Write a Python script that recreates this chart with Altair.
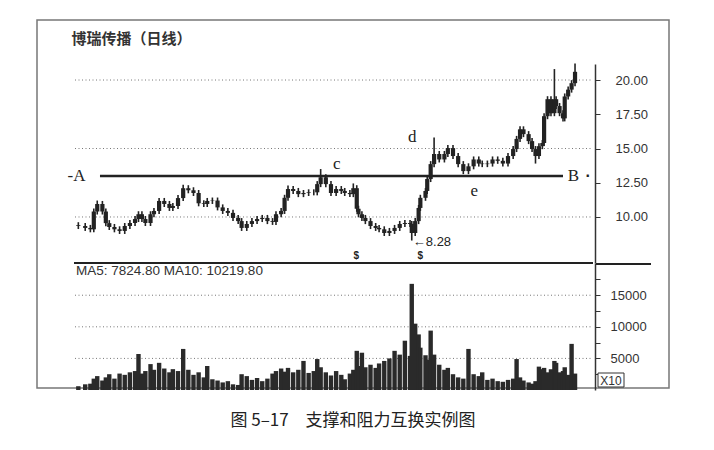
import altair as alt
import pandas as pd

# ---------------- data ----------------
days = [0, 4, 7, 9, 11, 14, 16, 18, 21, 24,
        27, 30, 33, 35, 37, 39, 42, 44, 47, 50,
        53, 55, 58, 61, 64, 67, 70, 73, 75, 78,
        81, 84, 87, 90, 93, 95, 98, 101, 104, 107,
        110, 113, 115, 118, 120, 122, 125, 128, 131, 134,
        137, 139, 141, 144, 147, 150, 153, 155, 158, 160,
        162, 163, 165, 167, 170, 173, 175, 178, 181, 184,
        187, 190, 193, 194, 196, 198, 199, 202, 203, 205,
        207, 210, 213, 215, 218, 221, 224, 227, 230, 233,
        235, 238, 241, 244, 247, 250, 253, 255, 257, 259,
        262, 264, 266, 268, 270, 271, 273, 275, 277, 278,
        280, 282, 283, 285, 287, 289]

closes = [9.34, 9.2, 9.1, 10.4, 10.95, 10.4, 9.55, 9.27, 9.1, 8.98,
          9.34, 9.56, 9.85, 10.2, 9.85, 9.56, 10.2, 10.44, 11.17, 10.95,
          10.66, 10.8, 11.38, 12.1, 11.95, 11.75, 11.0, 10.95, 11.17, 11.2,
          10.7, 10.44, 10.3, 9.93, 9.7, 9.2, 9.49, 9.7, 9.85, 9.93,
          9.7, 9.64, 10.2, 10.44, 11.4, 12.04, 11.9, 11.67, 11.75, 11.8,
          11.8, 12.4, 12.9, 12.4, 11.75, 12.04, 11.9, 11.75, 11.67, 12.1,
          10.6, 10.2, 9.93, 9.7, 9.34, 9.2, 9.1, 8.83, 8.98, 9.2,
          9.49, 9.56, 9.49, 8.83, 9.7, 10.66, 11.4, 11.9, 12.77, 13.86,
          14.6, 14.2, 14.6, 15.03, 14.45, 13.86, 13.35, 13.7, 14.2, 13.9,
          13.86, 13.9, 14.2, 14.1, 13.9, 14.45, 14.96, 15.7, 16.4, 16.05,
          15.54, 14.96, 14.45, 15.17, 15.4, 17.36, 18.6, 17.58, 18.6, 18.1,
          17.58, 17.2, 18.8, 19.3, 19.77, 20.6]

volumes = [600, 900, 1000, 1800, 2200, 1500, 2000, 2500, 1800, 2600,
           2400, 2800, 3000, 5700, 2600, 3000, 4100, 3200, 4300, 3400,
           2800, 3300, 3000, 6500, 3200, 2400, 2800, 2000, 3800, 1700,
           1500, 1200, 1400, 900, 800, 2500, 2200, 1600, 1900, 1400,
           1800, 2600, 3000, 3400, 2900, 3500, 2800, 3200, 4600, 2700,
           3000, 4900, 3600, 2800, 2300, 3000, 2400, 1700, 2600, 3200,
           6200, 3800, 5900, 3600, 4000, 3500, 4200, 4600, 5000, 6200,
           5600, 7800, 5400, 16800, 10500, 8800, 6700, 5500, 4800, 9400,
           5600, 4000, 3200, 3500, 2500, 2000, 1800, 6500, 2500, 2200,
           2800, 1600, 1800, 1400, 1300, 1600, 1800, 4900, 2000, 1500,
           1200, 1000, 1400, 3700, 3300, 3500, 2800, 3300, 4600, 4300,
           2800, 3000, 3600, 2400, 7300, 2600]

first_open = 9.4
high_spikes = {11: 11.2, 61: 12.35, 122: 12.3, 141: 13.5, 160: 12.45,
               207: 15.8, 277: 20.8, 289: 21.2}
low_spikes = {194: 8.28, 266: 13.9}
wick = 0.22

price_ticks = [10, 12.5, 15, 17.5, 20]
price_grid = [10, 15, 20]
vol_ticks = [2500, 5000, 7500, 10000, 12500, 15000, 17500]
vol_grid = [5000, 10000, 15000]
support_level = 13.0
support_from, support_to = 12.6, 282

title_text = "博瑞传播（日线）"
caption_text = "图 5–17　支撑和阻力互换实例图"
ma_text = "MA5: 7824.80  MA10: 10219.80"

letters = pd.DataFrame({
    "t": ["-A", "B", "c", "d", "e"],
    "day": [-1.1, 288, 150.3, 194.3, 230.3],
    "p": [13.0, 13.0, 13.87, 15.84, 11.9],
})
low_note = pd.DataFrame({"t": ["←8.28"], "day": [194.6], "p": [8.2]})
markers = pd.DataFrame({"t": ["$", "$"], "day": [161.7, 198.9], "p": [7.12, 7.12]})
dot = pd.DataFrame({"t": ["·"], "day": [296.6], "p": [13.0]})
title_df = pd.DataFrame({"t": [title_text], "day": [-4], "p": [22.99]})

# ---------------- build table ----------------
opens = [first_open] + closes[:-1]
rows = []
for d, o, c, v in zip(days, opens, closes, volumes):
    rows.append(dict(day=d, open=o, close=c,
                     high=high_spikes.get(d, max(o, c) + wick),
                     low=low_spikes.get(d, min(o, c) - wick),
                     vol=v))
df = pd.DataFrame(rows)

W, H1, H2 = 558, 199, 127
xs = alt.Scale(domain=[-21.14, 297.71], nice=False, zero=False)
ps = alt.Scale(domain=[6.64, 21.17], nice=False, zero=False)
vs = alt.Scale(domain=[0, 20100], nice=False, zero=False)

INK = "#222222"
SANS = "Liberation Sans"
SERIF = "Liberation Serif"
CJK = "Noto Sans CJK SC"

price_axis = alt.Axis(orient="right", values=price_ticks, format=".2f",
                      tickSize=5, labelPadding=15, labelFontSize=13,
                      labelFont=SANS, labelColor="#333", domainColor="#333",
                      domainWidth=1.5, tickColor="#333", tickWidth=1,
                      grid=False, title=None)
vol_axis = alt.Axis(orient="right", values=vol_ticks, format="d",
                    labelExpr="datum.value % 5000 == 0 ? datum.label : ''",
                    tickSize=5, labelPadding=10, labelFontSize=13,
                    labelFont=SANS, labelColor="#333", domainColor="#333",
                    domainWidth=1.5, tickColor="#333", tickWidth=1,
                    grid=False, title=None)

X = alt.X("day:Q", scale=xs, axis=None)
one = pd.DataFrame({"a": [0]})


def PY(field):
    return alt.Y(field, scale=ps, axis=price_axis)


# ----- price panel -----
frame = alt.Chart(one).mark_rect(fill="transparent", stroke="#777", strokeWidth=1.5).encode(
    x=alt.value(0), x2=alt.value(632), y=alt.value(-44), y2=alt.value(324))

pgrid = alt.Chart(pd.DataFrame({"p": price_grid})).mark_rule(
    color="#777", strokeDash=[1, 2.5], strokeWidth=1).encode(
    x=alt.value(38), x2=alt.value(556), y=PY("p:Q"))

ab = alt.Chart(pd.DataFrame({"x0": [support_from], "x1": [support_to], "p": [support_level]})).mark_rule(
    color=INK, strokeWidth=2.5).encode(x=alt.X("x0:Q", scale=xs, axis=None), x2="x1:Q", y=PY("p:Q"))

wicks = alt.Chart(df).mark_rule(color=INK, strokeWidth=1.6).encode(
    x=X, y=PY("low:Q"), y2="high:Q")
bodies = alt.Chart(df).mark_bar(color=INK, size=4.2).encode(
    x=X, y=PY("open:Q"), y2="close:Q")

sep1 = alt.Chart(one).mark_rule(color=INK, strokeWidth=2).encode(
    x=alt.value(37), x2=alt.value(556), y=alt.value(H1))
sep2 = alt.Chart(one).mark_rule(color=INK, strokeWidth=2).encode(
    x=alt.value(559), x2=alt.value(614), y=alt.value(H1 + 1))

t_letters = alt.Chart(letters).mark_text(font=SERIF, fontSize=17, color=INK, baseline="middle").encode(
    x=X, y=PY("p:Q"), text="t:N")
t_low = alt.Chart(low_note).mark_text(font=SANS, fontSize=13, color=INK, align="left", baseline="middle").encode(
    x=X, y=PY("p:Q"), text="t:N")
t_mark = alt.Chart(markers).mark_text(font=SANS, fontSize=10, fontWeight="bold", color=INK, baseline="middle").encode(
    x=X, y=PY("p:Q"), text="t:N")
t_dot = alt.Chart(dot).mark_text(font=SANS, fontSize=16, fontWeight="bold", color=INK, baseline="middle").encode(
    x=X, y=PY("p:Q"), text="t:N")
t_title = alt.Chart(title_df).mark_text(font=CJK, fontSize=15, fontWeight="bold", color="#333", align="left", baseline="middle").encode(
    x=X, y=PY("p:Q"), text="t:N")

top = alt.layer(frame, pgrid, ab, wicks, bodies, sep1, sep2,
                t_letters, t_low, t_mark, t_dot, t_title).properties(width=W, height=H1)


# ----- volume panel -----
def VY(field):
    return alt.Y(field, scale=vs, axis=vol_axis)


vgrid = alt.Chart(pd.DataFrame({"v": vol_grid})).mark_rule(
    color="#777", strokeDash=[1, 2.5], strokeWidth=1).encode(
    x=alt.value(38), x2=alt.value(556), y=VY("v:Q"))
vbars = alt.Chart(df).mark_bar(color="#2a2a2a", size=4.4).encode(
    x=X, y=VY("vol:Q"), y2=alt.Y2(datum=0))
t_ma = alt.Chart(pd.DataFrame({"t": [ma_text]})).mark_text(
    font=SANS, fontSize=13.5, color="#333", align="left", baseline="middle").encode(
    x=alt.value(39), y=alt.value(8), text="t:N")
xbox = alt.Chart(one).mark_rect(fill="white", stroke="#333", strokeWidth=1).encode(
    x=alt.value(561), x2=alt.value(587), y=alt.value(110), y2=alt.value(124))
t_x10 = alt.Chart(pd.DataFrame({"t": ["X10"]})).mark_text(
    font=SANS, fontSize=12, color="#333", baseline="middle").encode(
    x=alt.value(574), y=alt.value(117.5), text="t:N")
t_cap = alt.Chart(pd.DataFrame({"t": [caption_text]})).mark_text(
    font=CJK, fontSize=17, color=INK, baseline="middle").encode(
    x=alt.value(316), y=alt.value(158), text="t:N")

bottom = alt.layer(vgrid, vbars, t_ma, xbox, t_x10, t_cap).properties(width=W, height=H2)

chart = alt.vconcat(top, bottom, spacing=0, bounds="flush").resolve_scale(
    x="independent", y="independent").properties(
    padding={"left": 28, "top": 11, "right": 4, "bottom": 4},
    background="white").configure_view(stroke=None)

chart.save("out.html", embed_options={"renderer": "svg", "actions": False})
